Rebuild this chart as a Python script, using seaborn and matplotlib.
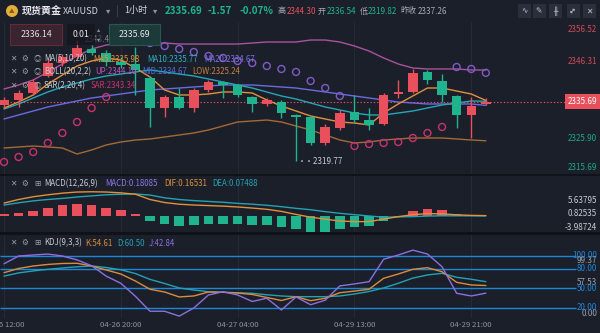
import numpy as np
import pandas as pd
import matplotlib
matplotlib.use("Agg")
import matplotlib.pyplot as plt
from matplotlib.patches import Rectangle, Ellipse
import seaborn as sns

# ---------------- hourly XAUUSD candles (oldest first) ----------------
opens = [2334.77, 2336.10, 2337.97, 2342.50, 2345.96, 2347.56, 2349.69, 2348.63,
         2346.23, 2345.70, 2341.97, 2333.97, 2336.90, 2333.97, 2338.77, 2340.90,
         2340.10, 2336.90, 2335.04, 2335.57, 2332.11, 2331.57, 2324.65, 2328.64,
         2332.91, 2330.77, 2329.71, 2337.70, 2338.24, 2343.57, 2341.17, 2337.17,
         2332.11, 2335.04]
highs = [2336.90, 2338.77, 2341.70, 2347.30, 2348.40, 2352.09, 2350.76, 2349.43,
         2347.56, 2350.20, 2342.50, 2337.44, 2339.30, 2339.30, 2341.43, 2341.17,
         2340.37, 2337.17, 2336.64, 2336.10, 2332.37, 2331.84, 2329.71, 2333.44,
         2337.44, 2333.97, 2337.97, 2341.43, 2344.30, 2344.10, 2343.03, 2337.44,
         2336.90, 2336.64]
lows = [2333.97, 2334.24, 2337.44, 2342.20, 2345.20, 2347.03, 2348.10, 2345.16,
        2344.60, 2337.44, 2328.91, 2331.57, 2333.70, 2332.91, 2338.24, 2336.64,
        2336.90, 2332.91, 2334.50, 2331.30, 2319.77, 2324.12, 2324.12, 2328.11,
        2329.97, 2328.11, 2329.44, 2336.64, 2337.97, 2340.37, 2335.57, 2328.64,
        2325.98, 2334.77]
closes = [2336.10, 2337.97, 2340.90, 2345.96, 2347.56, 2349.96, 2348.63, 2346.23,
          2345.43, 2344.10, 2333.97, 2336.90, 2333.97, 2338.77, 2340.90, 2340.10,
          2337.44, 2335.04, 2336.10, 2332.64, 2331.57, 2324.65, 2328.91, 2332.64,
          2330.77, 2329.44, 2337.44, 2338.24, 2343.30, 2341.43, 2337.44, 2332.11,
          2334.50, 2335.69]

# ---------------- overlays on the price pane ----------------
ma5 = [2333.97, 2335.57, 2337.44, 2340.37, 2342.77, 2345.16, 2346.50, 2347.30,
       2346.76, 2344.63, 2342.23, 2338.77, 2337.44, 2337.44, 2337.70, 2338.24,
       2338.24, 2337.97, 2336.10, 2334.50, 2333.17, 2331.84, 2331.04, 2330.24,
       2329.97, 2329.44, 2332.64, 2335.04, 2337.17, 2339.30, 2339.30, 2338.50,
       2337.70, 2335.98]
ma10 = [2333.70, 2335.04, 2336.64, 2338.24, 2339.57, 2340.63, 2341.70, 2342.50,
        2343.03, 2343.57, 2344.10, 2343.57, 2343.03, 2342.50, 2341.70, 2340.90,
        2340.10, 2339.30, 2338.24, 2337.17, 2336.37, 2335.30, 2334.24, 2333.44,
        2332.64, 2332.11, 2332.11, 2332.64, 2333.17, 2333.97, 2334.77, 2335.30,
        2335.84, 2335.77]
ma20 = [2331.04, 2332.11, 2333.17, 2334.24, 2335.04, 2335.84, 2336.64, 2337.17,
        2337.70, 2338.24, 2338.77, 2339.04, 2339.30, 2339.57, 2339.84, 2340.10,
        2340.10, 2340.10, 2339.84, 2339.57, 2339.30, 2338.77, 2338.24, 2337.70,
        2337.17, 2336.64, 2336.10, 2335.57, 2335.30, 2335.04, 2335.04, 2335.04,
        2335.04, 2334.67]
boll_up = [2339.04, 2340.10, 2341.43, 2343.57, 2345.70, 2347.83, 2349.69, 2350.76,
           2351.29, 2351.29, 2351.29, 2351.29, 2351.02, 2351.02, 2351.02, 2351.02,
           2351.02, 2351.29, 2351.56, 2351.56, 2351.56, 2352.09, 2352.09, 2351.56,
           2350.50, 2349.16, 2347.30, 2345.70, 2344.63, 2344.37, 2344.37, 2344.37,
           2344.10, 2344.10]
boll_low = [2323.31, 2323.58, 2323.84, 2323.58, 2323.31, 2321.71, 2322.78, 2324.12,
            2324.91, 2325.44, 2325.71, 2326.24, 2326.78, 2327.31, 2328.11, 2329.17,
            2330.24, 2330.51, 2330.77, 2330.24, 2329.17, 2328.11, 2326.78, 2325.44,
            2324.65, 2324.91, 2325.44, 2325.71, 2325.98, 2325.98, 2325.98, 2325.71,
            2325.44, 2325.24]
sar = [2319.58, 2320.91, 2322.24, 2324.65, 2327.31, 2330.24, 2333.97, 2336.90,
       2352.09, 2351.69, 2351.29, 2350.49, 2349.69, 2348.90, 2347.83, 2347.30,
       2346.50, 2345.96, 2345.16, 2344.37, 2343.57, 2341.17, 2339.30, 2337.17,
       2323.84, 2324.38, 2324.65, 2324.91, 2325.98, 2327.31, 2328.91, 2344.90,
       2344.37, 2343.34]

# ---------------- MACD(12,26,9) ----------------
dif = [4.7, 6.0, 7.0, 7.7, 8.3, 8.7, 8.8, 8.7, 8.4, 7.9, 6.0, 4.9, 4.3, 4.0, 3.8,
       3.6, 3.3, 2.9, 2.45, 1.7, 0.6, -0.4, -1.1, -1.8, -2.0, -2.0, -1.1, -0.2,
       0.5, 0.9, 0.8, 0.45, 0.25, 0.16531]
dea = [4.0, 4.8, 5.5, 6.0, 6.4, 6.9, 7.3, 7.7, 7.9, 8.0, 7.6, 6.6, 6.0, 5.6, 5.3,
       5.0, 4.6, 4.3, 3.9, 3.4, 2.8, 2.3, 1.6, 1.0, 0.5, 0.03, -0.4, -0.3, -0.2,
       0.0, 0.1, 0.1, 0.08, 0.07488]
macd_hist = [0.6, 1.2, 1.8, 3.0, 3.9, 4.5, 4.0, 3.0, 2.05, 0.85, -1.6, -2.8, -3.6,
             -3.4, -2.8, -2.8, -2.8, -3.4, -3.4, -4.0, -4.6, -5.7, -5.7, -4.8, -3.9,
             -3.6, -1.8, -0.2, 1.8, 2.4, 2.05, 0.6, 0.36, 0.18085]

# ---------------- KDJ(9,3,3) ----------------
k_line = [74.3, 80.8, 84.6, 87.0, 88.5, 88.8, 84.6, 78.5, 72.3, 61.5, 48.8, 44.6,
          37.0, 38.5, 44.6, 44.2, 43.0, 40.8, 36.2, 31.5, 37.4, 31.2, 35.0, 43.5,
          46.0, 48.8, 65.7, 72.3, 79.5, 82.0, 75.8, 59.5, 55.4, 54.61]
d_line = [69.0, 74.0, 77.0, 79.5, 81.5, 83.4, 84.6, 82.3, 78.8, 73.0, 64.0, 57.7,
          50.8, 47.7, 45.0, 44.2, 43.4, 42.6, 40.3, 38.5, 37.4, 37.4, 37.4, 38.5,
          41.5, 45.4, 50.8, 58.0, 66.0, 70.8, 73.4, 67.2, 64.2, 60.50]
j_line = [88.0, 100.0, 101.5, 103.0, 100.0, 94.0, 85.0, 69.0, 58.0, 38.0, 15.0,
          15.0, 7.5, 20.0, 40.0, 45.0, 40.0, 30.0, 35.0, 17.0, 37.0, 25.0, 32.0,
          54.0, 57.0, 60.5, 95.0, 101.5, 109.0, 103.0, 83.5, 42.6, 38.5, 42.84]
kdj_levels = [100, 80, 50, 20]

time_labels = ["04-26 12:00", "04-26 20:00", "04-27 04:00", "04-29 13:00", "04-29 21:00"]

# ---------------- styling ----------------
BG = "#1b1f2a"
GRID = "#252a36"
SEP = "#0f1219"
RED = "#e9505c"
GREEN = "#1fb48e"
C_MA5 = "#e0913c"
C_MA10 = "#24a7b8"
C_MA20 = "#6b6ae0"
C_UP = "#a9529f"
C_LOW = "#a36a37"
SAR_BELOW = "#c8336e"
SAR_ABOVE = "#7f5cc6"
C_K = "#d98d3c"
C_D = "#22a3b4"
C_J = "#8d6fe0"
C_LEVEL = "#1f86d6"
TXT = "#c9ccd4"
DIM = "#8e939e"

sns.set_theme(style="dark", rc={"axes.facecolor": BG, "figure.facecolor": BG})
plt.rcParams["font.family"] = ["Noto Sans CJK SC", "DejaVu Sans"]
plt.rcParams["axes.unicode_minus"] = False

W, H = 600, 333
fig = plt.figure(figsize=(W / 100, H / 100), dpi=100, facecolor=BG)


def fx(px):
    return px / W


def fy(py):
    return 1 - py / H


PLOT_R = 565
ax_main = fig.add_axes([0, fy(174), fx(PLOT_R), (174 - 22) / H])
ax_macd = fig.add_axes([0, fy(232), fx(PLOT_R), (232 - 176) / H])
ax_kdj = fig.add_axes([0, fy(318), fx(PLOT_R), (318 - 235) / H])

candles = pd.DataFrame({"open": opens, "high": highs, "low": lows, "close": closes})
n = len(candles)
idx = np.arange(n)
tick_idx = idx[::8]
X0, X1 = -0.274, 38.42


def style_axis(ax, ylim):
    ax.set_facecolor(BG)
    ax.set_xlim(X0, X1)
    ax.set_ylim(*ylim)
    for s in ax.spines.values():
        s.set_visible(False)
    ax.set_xticks([])
    ax.set_yticks([])
    ax.set_xlabel("")
    ax.set_ylabel("")
    ax.grid(False)
    for t in tick_idx:
        ax.axvline(t, color=GRID, lw=0.8, zorder=0)


# ---------------- price pane ----------------
rising = candles["close"] >= candles["open"]
ccol = np.where(rising, RED, GREEN)
ax_main.axhline(closes[-1], color=RED, lw=0.8, ls=(0, (1.2, 1.8)), zorder=1)
for series, col in [(boll_low, C_LOW), (boll_up, C_UP), (ma20, C_MA20),
                    (ma10, C_MA10), (ma5, C_MA5)]:
    sns.lineplot(x=idx, y=series, ax=ax_main, color=col, lw=1.0, legend=False, zorder=2)
ax_main.vlines(idx, candles["low"], candles["high"], colors=ccol, lw=1.0, zorder=4)
body_lo = np.minimum(candles["open"], candles["close"])
body_h = np.abs(candles["close"] - candles["open"])
ax_main.bar(idx, body_h, bottom=body_lo, width=0.65, color=ccol, linewidth=0, zorder=5)

sar_arr = np.array(sar)
below = sar_arr < candles["close"].values
sns.scatterplot(x=idx[below], y=sar_arr[below], ax=ax_main, color=SAR_BELOW,
                facecolor="none", edgecolor=SAR_BELOW, s=25, linewidth=1.0,
                legend=False, zorder=6)
sns.scatterplot(x=idx[~below], y=sar_arr[~below], ax=ax_main, color=SAR_ABOVE,
                facecolor="none", edgecolor=SAR_ABOVE, s=25, linewidth=1.0,
                legend=False, zorder=6)
style_axis(ax_main, (2316.38, 2356.89))

low_i = int(np.argmin(lows))
ax_main.text(low_i + 0.15, lows[low_i], "··2319.77", color=TXT, fontsize=5.8,
             ha="left", va="center", zorder=7)

ytr = ax_main.get_yaxis_transform()
xr = 597 / PLOT_R
ax_main.text(xr, 2346.31, "2346.31", transform=ytr, ha="right", va="center",
             color="#cf4b57", fontsize=5.8, clip_on=False)
ax_main.text(xr, 2325.90, "2325.90", transform=ytr, ha="right", va="center",
             color="#1fa888", fontsize=5.8, clip_on=False)
ax_main.text(xr, closes[-1], f"{closes[-1]:.2f}", transform=ytr, ha="right",
             va="center", color="white", fontsize=5.8, clip_on=False, zorder=8,
             bbox=dict(facecolor=RED, edgecolor="none", boxstyle="square,pad=0.32"))

# ---------------- MACD pane ----------------
hcol = np.where(np.array(macd_hist) >= 0, RED, GREEN)
ax_macd.bar(idx, macd_hist, width=0.65, color=hcol, linewidth=0, zorder=2)
sns.lineplot(x=idx, y=dea, ax=ax_macd, color=C_D, lw=1.0, legend=False, zorder=3)
sns.lineplot(x=idx, y=dif, ax=ax_macd, color=C_MA5, lw=1.0, legend=False, zorder=3)
style_axis(ax_macd, (-5.76, 14.50))
mtr = ax_macd.get_yaxis_transform()
for v in [5.63795, 0.82535, -3.98724]:
    ax_macd.text(xr, v, f"{v:.5f}", transform=mtr, ha="right", va="center",
                 color=TXT, fontsize=5.8, clip_on=False)

# ---------------- KDJ pane ----------------
ax_kdj.hlines(kdj_levels, X0, 39.2, color=C_LEVEL, lw=1.0, zorder=1, clip_on=False)
sns.lineplot(x=idx, y=d_line, ax=ax_kdj, color=C_D, lw=1.0, legend=False, zorder=3)
sns.lineplot(x=idx, y=k_line, ax=ax_kdj, color=C_K, lw=1.0, legend=False, zorder=3)
sns.lineplot(x=idx, y=j_line, ax=ax_kdj, color=C_J, lw=1.0, legend=False, zorder=3)
style_axis(ax_kdj, (4.6, 132.3))
ktr = ax_kdj.get_yaxis_transform()
for v in kdj_levels:
    ax_kdj.text(xr, v, f"{v:.2f}", transform=ktr, ha="right", va="center",
                color=C_LEVEL, fontsize=5.8, clip_on=False, zorder=5)
for v, s in [(93.5, "99.37"), (58.5, "57.53"), (11.0, "0.00")]:
    ax_kdj.text(xr, v, s, transform=ktr, ha="right", va="center",
                color="#9da2ad", fontsize=5.8, clip_on=False, zorder=4)
xtr = ax_kdj.get_xaxis_transform()
for t, lab in zip(tick_idx, time_labels):
    ax_kdj.text(t, -0.085, lab, transform=xtr, ha="center", va="center",
                color=DIM, fontsize=5.6, clip_on=False)

# ---------------- pane separators ----------------
for y0, y1 in [(174, 176), (232, 235)]:
    fig.add_artist(Rectangle((0, fy(y1)), 1, (y1 - y0) / H, transform=fig.transFigure,
                             facecolor=SEP, edgecolor="none", zorder=1))


def put(px, py, s, color, size=5.7, weight="normal", ha="left", z=3, **kw):
    fig.text(fx(px), fy(py), s, color=color, fontsize=size, fontweight=weight,
             ha=ha, va="center", zorder=z, **kw)


def box(x0, y0, x1, y1, fc, ec, alpha=1.0, z=1):
    fig.add_artist(Rectangle((fx(x0), fy(y1)), (x1 - x0) / W, (y1 - y0) / H,
                             transform=fig.transFigure, facecolor=fc, edgecolor=ec,
                             lw=0.8, alpha=alpha, zorder=z))


# ---------------- header ----------------
fig.add_artist(Ellipse((fx(12), fy(11)), 12 / W, 12 / H, transform=fig.transFigure,
                       facecolor="#e2b03a", edgecolor="none", zorder=2))
put(12, 11.5, "▲", "#8a5c12", size=4, ha="center")
put(22, 11, "现货黄金", "#e8e9ee", size=7.2, weight="bold")
put(63, 11, "XAUUSD", "#d2d4da", size=6.6)
put(108, 11, "▾", DIM, size=6, ha="center")
put(117, 11, "|", "#4a4f5c", size=7, ha="center")
put(124, 11, "1小时", "#d2d4da", size=6.6)
put(155, 11, "▾", DIM, size=6, ha="center")
put(165, 11, "2335.69", GREEN, size=7.1, weight="bold")
put(208, 11, "-1.57", GREEN, size=7.1, weight="bold")
put(239, 11, "-0.07%", GREEN, size=7.1, weight="bold")
put(277, 11, "高", "#a6aab4", size=5.8)
put(287, 11, "2344.30", RED, size=5.8)
put(318, 11, "开", "#a6aab4", size=5.8)
put(327, 11, "2336.54", GREEN, size=5.8)
put(360, 11, "低", "#a6aab4", size=5.8)
put(368, 11, "2319.82", GREEN, size=5.8)
put(400, 11, "昨收", "#a6aab4", size=5.8)
put(418, 11, "2337.26", "#a6aab4", size=5.8)
for cx, g, rot in [(524, "∿", 0), (539, "✎", 0), (555, "╫", 0), (573, "↔", 45), (589, "✕", 0)]:
    box(cx - 6.5, 4.5, cx + 6.5, 17.5, "#2a2f3b", "none", z=1)
    fig.text(fx(cx), fy(11), g, color="#c4c7cf", fontsize=5.5, ha="center",
             va="center", rotation=rot, family=["DejaVu Sans"], zorder=3)

# ---------------- crosshair readouts ----------------
put(99, 40, "2343.44", "#7f8490", size=5.8, ha="center", z=0.5)
box(10, 24, 62, 45, "#3a2430", "#5e2c3a", z=1)
put(36, 34.5, "2336.14", "#e0e1e6", size=6.3, ha="center")
box(67, 24, 95, 45, "#13161d", "none", alpha=0.75, z=1)
put(81, 34.5, "0.01", "#e6e7ea", size=6.3, ha="center")
box(96, 25, 102, 44, "#1b1f2a", "none", alpha=0.6, z=1)
put(99, 29.5, "▴", DIM, size=4.5, ha="center")
put(99, 39.5, "▾", DIM, size=4.5, ha="center")
box(109, 24, 160, 45, "#1d3a3a", "#2a5652", z=1)
put(134.5, 34.5, "2335.69", "#e6e7ea", size=6.3, ha="center")

# ---------------- indicator legends ----------------
def icons(py, third):
    put(13, py, "✕", "#9aa0ab", size=5.5, ha="center")
    put(25, py, "⚙", "#9aa0ab", size=5.5, ha="center")
    put(37, py, third, "#9aa0ab", size=5.5, ha="center")


icons(59, "◎")
put(44, 59, "MA(5,10,20)", TXT)
put(93, 59, "MA5:2335.98", C_MA5)
put(147, 59, "MA10:2335.77", "#2fb0c4")
put(204, 59, "MA20:2334.67", "#7d70e0")
icons(72, "◎")
put(44, 72, "BOLL(20,2,2)", TXT)
put(95, 72, "UP:2344.10", "#c055c0")
put(142, 72, "MID:2334.67", "#4f6fe0")
put(192, 72, "LOW:2325.24", "#c8813e")
icons(86, "◎")
put(44, 86, "SAR(2,20,4)", TXT)
put(91, 86, "SAR:2343.34", SAR_BELOW)

icons(184, "⊞")
put(44, 184, "MACD(12,26,9)", TXT)
put(105, 184, "MACD:0.18085", "#8c78e8")
put(164, 184, "DIF:0.16531", C_MA5)
put(212, 184, "DEA:0.07488", C_D)

icons(243, "⊞")
put(44, 243, "KDJ(9,3,3)", TXT)
put(85, 243, "K:54.61", C_K)
put(117, 243, "D:60.50", C_D)
put(149, 243, "J:42.84", C_J)

put(597, 30, "2356.52", "#cf4b57", size=5.8, ha="right")
put(597, 168, "2315.69", "#1fa888", size=5.8, ha="right")

fig.savefig("out.png", dpi=100, facecolor=BG)
